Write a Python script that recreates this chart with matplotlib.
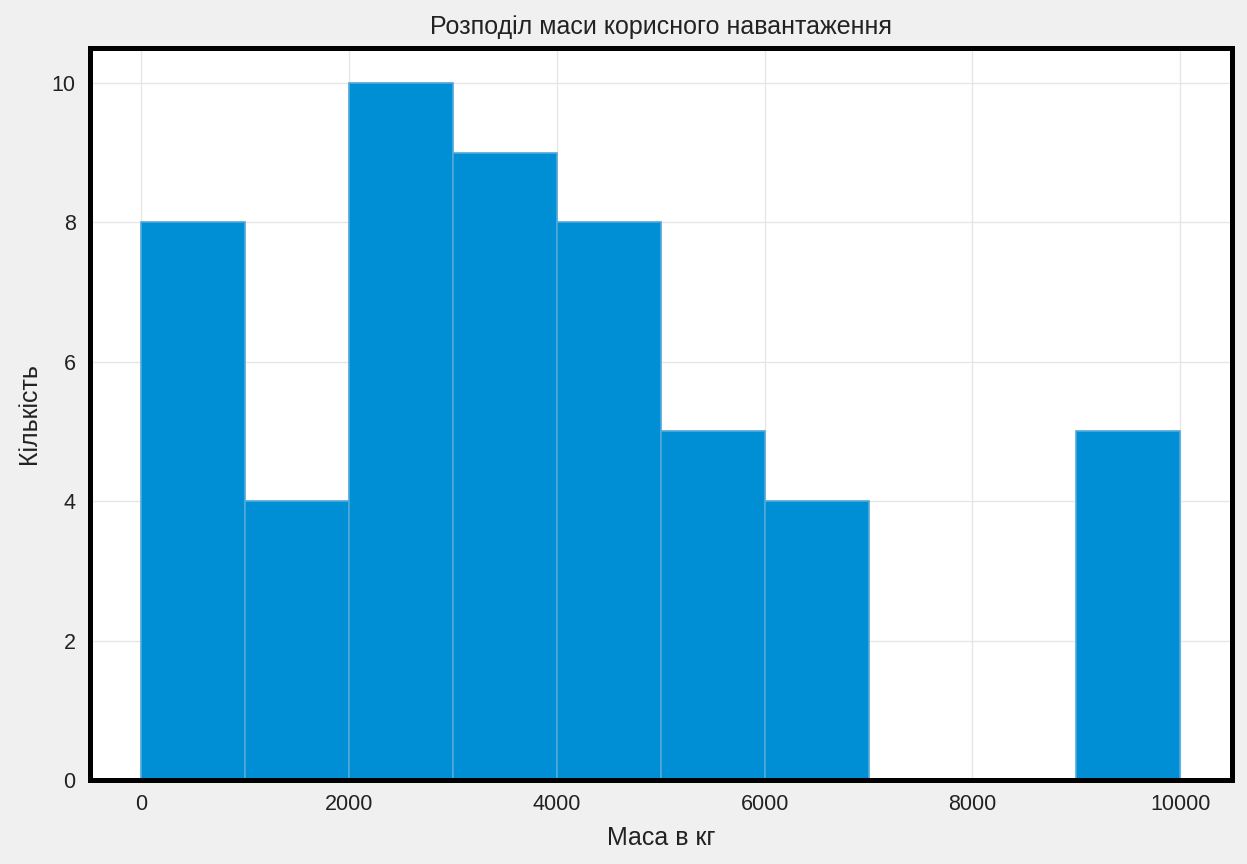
import matplotlib
matplotlib.use("Agg")
import matplotlib.pyplot as plt
import numpy as np

# Гістограма маси корисного навантаження
bin_edges = [0, 1000, 2000, 3000, 4000, 5000, 6000, 7000, 8000, 9000, 10000]
counts = [8, 4, 10, 9, 8, 5, 4, 0, 0, 5]
x_ticks = [0, 2000, 4000, 6000, 8000, 10000]
y_ticks = [0, 2, 4, 6, 8, 10]

plt.rcParams['font.family'] = ['Liberation Sans', 'DejaVu Sans']

fig = plt.figure(figsize=(12.47, 8.64), dpi=100, facecolor='#f0f0f0')
ax = fig.add_axes([0.0718, 0.0972, 0.9162, 0.8472])
ax.set_facecolor('white')

ax.hist(bin_edges[:-1], bins=bin_edges, weights=counts,
        color='#008fd5', edgecolor='#4fa9dc', linewidth=1.2, zorder=2)

ax.set_xticks(x_ticks)
ax.set_yticks(y_ticks)
ax.set_ylim(0, 10.5)
ax.grid(True, color='#e6e6e6', linewidth=1, zorder=0)
ax.set_axisbelow(True)
ax.tick_params(length=0, labelsize=15.5, colors='#222222', pad=10)

for s in ax.spines.values():
    s.set_linewidth(3.6)
    s.set_color('black')

ax.set_title('Розподіл маси корисного навантаження', fontsize=18, color='#222222', pad=10)
ax.set_xlabel('Маса в кг', fontsize=18, color='#222222', labelpad=8)
ax.set_ylabel('Кількість', fontsize=18, color='#222222', labelpad=8)

fig.savefig('out.png', dpi=100, facecolor=fig.get_facecolor())
